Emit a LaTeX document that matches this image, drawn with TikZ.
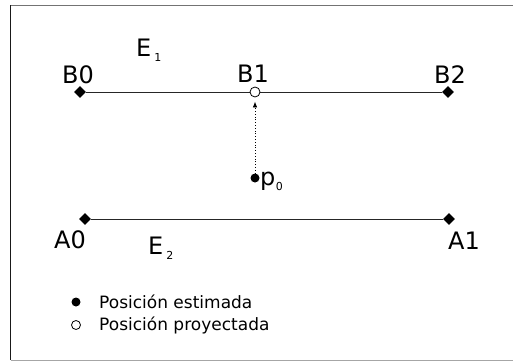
\documentclass[tikz,border=0pt]{standalone}
\usepackage{fontspec}
\setmainfont{DejaVu Sans}
\usetikzlibrary{arrows.meta,shapes.geometric,positioning}
\newcommand{\subidx}[2][3pt]{\hspace{#1}\raisebox{-5pt}{\fontsize{11pt}{11pt}\selectfont #2}}
\tikzset{
endpoint/.style={
  diamond,
  fill=black,
  inner sep=0pt,
  minimum size=12pt
},
estpoint/.style={
  circle,
  fill=black,
  inner sep=0pt,
  minimum size=9pt
},
projpoint/.style={
  circle,
  draw=black,
  fill=white,
  line width=0.8pt,
  inner sep=0pt,
  minimum size=10pt
},
seglabel/.style={
  font=\fontsize{24pt}{24pt}\selectfont,
  inner sep=0pt
},
legendtext/.style={
  font=\fontsize{17pt}{17pt}\selectfont,
  anchor=west,
  inner sep=0pt
},
segline/.style={
  draw=black!85,
  line width=1pt
},
projarrow/.style={
  -{Latex[length=6pt,width=4.5pt]},
  dotted,
  line width=0.8pt,
  shorten >=4pt
}
}

\begin{document}
\begin{tikzpicture}[x=1pt,y=-1pt]
\useasboundingbox (0,0) rectangle (513,361);

% frame (open on the right)
\draw[black!55,line width=1pt] (513,5.5) -- (10.5,5.5);
\draw[black!90,line width=1.2pt] (10.5,5.5) -- (10.5,360);
\draw[black!35,line width=1pt] (10.5,360) -- (513,360);

% segment E1
\node[endpoint] (B0) at (80,92) {};
\node[endpoint] (B2) at (448,92) {};
\draw[segline] (B0) -- (B2);
\node[projpoint] (B1) at (255,92) {};

% segment E2
\node[endpoint] (A0) at (85,219) {};
\node[endpoint] (A1) at (449,219) {};
\draw[segline] (A0) -- (A1);

% estimated point and its projection
\node[estpoint] (p0) at (255,178) {};
\draw[projarrow] (p0) -- (B1);

% labels
\node[seglabel] (lB0) at (78,75) {B0};
\node[seglabel] (lB1) at (253,74) {B1};
\node[seglabel] (lB2) at (450,75) {B2};
\node[seglabel] (lA0) at (70,240) {A0};
\node[seglabel] (lA1) at (464,241) {A1};
\node[seglabel,anchor=base west] (lE1) at (136,56.5) {E\subidx{1}};
\node[seglabel,anchor=base west] (lE2) at (148,254) {E\subidx{2}};
\node[seglabel,anchor=base west] (lp0) at (260,185) {p\subidx[0.5pt]{0}};

% legend
\node[estpoint] (keyest) at (76,302) {};
\node[projpoint,minimum size=9pt] (keyproj) at (76,325) {};
\node[legendtext] (txtest) at (99,302) {Posición estimada};
\node[legendtext] (txtproj) at (99,325) {Posición proyectada};

\end{tikzpicture}
\end{document}
